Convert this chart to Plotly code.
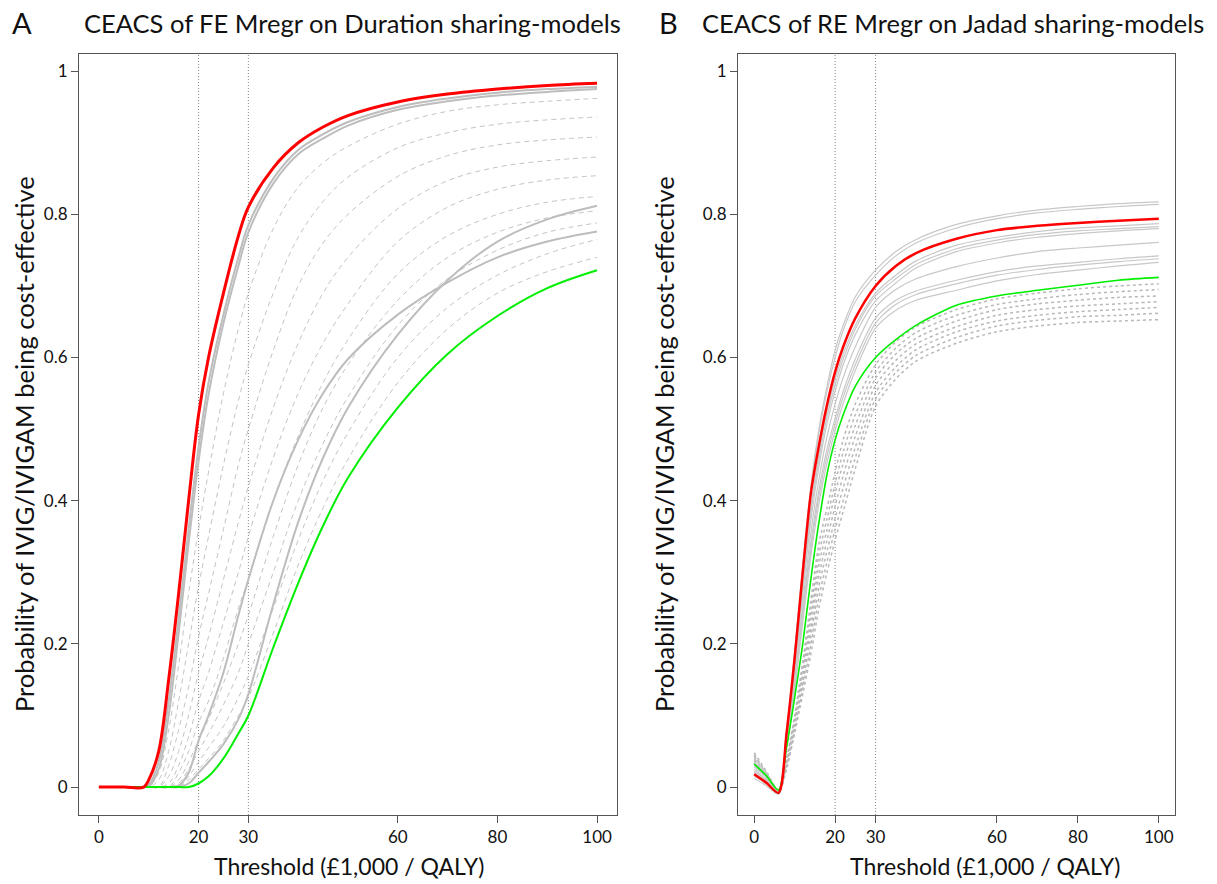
import plotly.graph_objects as go

# ---------------- Panel A data (FE Mregr on Duration) ----------------
XA = [0, 5, 9, 10, 12, 14, 16, 18, 20, 22, 25, 28, 30, 35, 40, 45, 50, 60, 70, 80, 90, 100]

red_A = [0, 0, 0, 0.01, 0.05, 0.15, 0.27, 0.40, 0.52, 0.60, 0.69, 0.77, 0.81, 0.865, 0.90, 0.922, 0.938, 0.957, 0.968, 0.975, 0.98, 0.983]
green_A = [0, 0, 0, 0, 0, 0, 0, 0, 0.005, 0.015, 0.04, 0.075, 0.10, 0.195, 0.285, 0.365, 0.432, 0.53, 0.605, 0.658, 0.697, 0.722]

gray_solid_A = [
    [0, 0, 0, 0.003, 0.035, 0.12, 0.235, 0.36, 0.475, 0.565, 0.66, 0.74, 0.785, 0.85, 0.89, 0.912, 0.929, 0.950, 0.962, 0.970, 0.975, 0.978],
    [0, 0, 0, 0.001, 0.025, 0.10, 0.215, 0.34, 0.455, 0.548, 0.648, 0.728, 0.775, 0.843, 0.884, 0.906, 0.924, 0.946, 0.958, 0.966, 0.971, 0.975],
    [0, 0, 0, 0, 0, 0, 0.002, 0.02, 0.065, 0.10, 0.16, 0.24, 0.29, 0.40, 0.485, 0.55, 0.598, 0.66, 0.705, 0.74, 0.762, 0.776],
    [0, 0, 0, 0, 0, 0, 0, 0.005, 0.02, 0.035, 0.06, 0.095, 0.13, 0.255, 0.37, 0.46, 0.53, 0.632, 0.708, 0.762, 0.793, 0.812],
]

gray_dash_A = [
    [0, 0, 0, 0, 0.02, 0.08, 0.17, 0.27, 0.36, 0.44, 0.55, 0.64, 0.69, 0.78, 0.838, 0.872, 0.895, 0.926, 0.944, 0.953, 0.958, 0.962],
    [0, 0, 0, 0, 0.01, 0.05, 0.12, 0.20, 0.28, 0.35, 0.45, 0.54, 0.59, 0.69, 0.768, 0.818, 0.852, 0.893, 0.914, 0.926, 0.932, 0.936],
    [0, 0, 0, 0, 0, 0.03, 0.08, 0.14, 0.21, 0.27, 0.36, 0.45, 0.50, 0.61, 0.70, 0.76, 0.80, 0.853, 0.882, 0.897, 0.904, 0.908],
    [0, 0, 0, 0, 0, 0.015, 0.05, 0.10, 0.16, 0.21, 0.29, 0.37, 0.42, 0.53, 0.62, 0.69, 0.74, 0.808, 0.847, 0.866, 0.875, 0.880],
    [0, 0, 0, 0, 0, 0.005, 0.03, 0.07, 0.12, 0.16, 0.23, 0.30, 0.35, 0.46, 0.55, 0.62, 0.675, 0.762, 0.81, 0.835, 0.848, 0.854],
    [0, 0, 0, 0, 0, 0, 0.02, 0.05, 0.09, 0.12, 0.18, 0.25, 0.29, 0.40, 0.49, 0.565, 0.625, 0.717, 0.77, 0.80, 0.817, 0.825],
    [0, 0, 0, 0, 0, 0, 0.01, 0.035, 0.065, 0.095, 0.145, 0.20, 0.24, 0.35, 0.45, 0.53, 0.59, 0.68, 0.74, 0.775, 0.795, 0.805],
    [0, 0, 0, 0, 0, 0, 0.005, 0.025, 0.05, 0.075, 0.115, 0.16, 0.20, 0.30, 0.40, 0.48, 0.545, 0.645, 0.71, 0.75, 0.775, 0.788],
    [0, 0, 0, 0, 0, 0, 0, 0.015, 0.035, 0.055, 0.085, 0.125, 0.155, 0.25, 0.345, 0.428, 0.495, 0.60, 0.67, 0.715, 0.745, 0.765],
    [0, 0, 0, 0, 0, 0, 0, 0.01, 0.025, 0.04, 0.065, 0.10, 0.125, 0.215, 0.31, 0.39, 0.458, 0.565, 0.64, 0.69, 0.72, 0.740],
]

# ---------------- Panel B data (RE Mregr on Jadad) ----------------
XB = [0, 3, 6, 8, 10, 12, 14, 16, 18, 20, 22, 25, 30, 35, 40, 50, 60, 70, 80, 90, 100]

red_B = [0.018, 0.006, -0.008, 0.075, 0.18, 0.30, 0.41, 0.477, 0.534, 0.58, 0.615, 0.655, 0.70, 0.728, 0.746, 0.766, 0.778, 0.784, 0.788, 0.791, 0.794]
green_B = [0.032, 0.016, -0.004, 0.055, 0.125, 0.20, 0.29, 0.37, 0.437, 0.485, 0.52, 0.56, 0.60, 0.625, 0.645, 0.673, 0.686, 0.694, 0.701, 0.708, 0.712]

gray_solid_B = [
    [0.025, 0.010, -0.006, 0.08, 0.19, 0.31, 0.42, 0.50, 0.56, 0.61, 0.645, 0.685, 0.722, 0.748, 0.765, 0.786, 0.798, 0.806, 0.811, 0.815, 0.8175],
    [0.012, 0.002, -0.010, 0.075, 0.185, 0.305, 0.415, 0.495, 0.553, 0.60, 0.638, 0.678, 0.715, 0.742, 0.76, 0.781, 0.794, 0.802, 0.807, 0.811, 0.814],
    [0.030, 0.015, -0.005, 0.07, 0.17, 0.285, 0.39, 0.465, 0.525, 0.57, 0.605, 0.645, 0.69, 0.715, 0.735, 0.757, 0.768, 0.776, 0.781, 0.784, 0.787],
    [0.022, 0.010, -0.007, 0.068, 0.165, 0.278, 0.382, 0.457, 0.517, 0.562, 0.598, 0.64, 0.686, 0.71, 0.73, 0.752, 0.764, 0.772, 0.777, 0.780, 0.783],
    [0.015, 0.005, -0.009, 0.065, 0.16, 0.27, 0.372, 0.448, 0.508, 0.553, 0.59, 0.632, 0.679, 0.704, 0.725, 0.748, 0.76, 0.768, 0.773, 0.777, 0.780],
    [0.040, 0.020, -0.005, 0.062, 0.15, 0.255, 0.355, 0.43, 0.49, 0.535, 0.572, 0.615, 0.67, 0.695, 0.71, 0.727, 0.739, 0.748, 0.753, 0.757, 0.761],
    [0.035, 0.018, -0.006, 0.06, 0.145, 0.245, 0.34, 0.415, 0.472, 0.515, 0.553, 0.598, 0.655, 0.68, 0.693, 0.708, 0.72, 0.728, 0.733, 0.738, 0.742],
    [0.028, 0.013, -0.007, 0.058, 0.14, 0.238, 0.332, 0.406, 0.463, 0.507, 0.545, 0.59, 0.648, 0.674, 0.688, 0.703, 0.715, 0.723, 0.729, 0.734, 0.738],
    [0.020, 0.008, -0.009, 0.056, 0.135, 0.23, 0.322, 0.396, 0.453, 0.498, 0.536, 0.582, 0.641, 0.666, 0.68, 0.694, 0.707, 0.716, 0.722, 0.728, 0.733],
]

gray_dash_B = [
    [0.048, 0.022, -0.004, 0.04, 0.10, 0.175, 0.26, 0.34, 0.39, 0.44, 0.485, 0.535, 0.59, 0.622, 0.643, 0.667, 0.682, 0.69, 0.696, 0.70, 0.703],
    [0.045, 0.020, -0.005, 0.0375, 0.096, 0.166, 0.247, 0.325, 0.375, 0.424, 0.468, 0.520, 0.580, 0.613, 0.635, 0.659, 0.674, 0.682, 0.688, 0.692, 0.695],
    [0.043, 0.019, -0.005, 0.035, 0.092, 0.160, 0.235, 0.310, 0.36, 0.41, 0.452, 0.505, 0.571, 0.605, 0.627, 0.651, 0.667, 0.675, 0.680, 0.684, 0.686],
    [0.040, 0.017, -0.006, 0.0325, 0.0875, 0.1525, 0.2225, 0.295, 0.345, 0.3925, 0.435, 0.49, 0.561, 0.596, 0.619, 0.643, 0.659, 0.667, 0.672, 0.675, 0.678],
    [0.038, 0.015, -0.007, 0.03, 0.083, 0.145, 0.21, 0.28, 0.33, 0.375, 0.418, 0.475, 0.551, 0.587, 0.611, 0.636, 0.651, 0.659, 0.664, 0.667, 0.670],
    [0.035, 0.014, -0.007, 0.0275, 0.079, 0.138, 0.198, 0.265, 0.315, 0.36, 0.40, 0.46, 0.542, 0.579, 0.603, 0.628, 0.644, 0.652, 0.657, 0.659, 0.662],
    [0.033, 0.012, -0.008, 0.025, 0.075, 0.13, 0.185, 0.25, 0.30, 0.345, 0.385, 0.445, 0.532, 0.57, 0.595, 0.62, 0.636, 0.644, 0.649, 0.651, 0.653],
]

X_TICKS = [0, 20, 30, 60, 80, 100]
Y_TICKS = [0, 0.2, 0.4, 0.6, 0.8, 1]
Y_TICKTEXT = ["0", "0.2", "0.4", "0.6", "0.8", "1"]
REF_LINES = [20, 30]

TITLE_A = "CEACS of FE Mregr on Duration sharing-models"
TITLE_B = "CEACS of RE Mregr on Jadad sharing-models"
X_TITLE = "Threshold (£1,000 / QALY)"
Y_TITLE = "Probability of IVIG/IVIGAM being cost-effective"

FONT = "Lato, 'Open Sans', sans-serif"
W, H = 1217, 884

fig = go.Figure()


def add(xs, ys, xa, ya, color, width, dash="solid", smooth=1.0):
    fig.add_trace(go.Scatter(
        x=xs, y=ys, xaxis=xa, yaxis=ya, mode="lines",
        line=dict(color=color, width=width, dash=dash, shape="spline", smoothing=smooth),
        hoverinfo="skip", showlegend=False))


# Panel A
for ys in gray_dash_A:
    add(XA, ys, "x", "y", "#c4c4c4", 1, "5px,4px")
for ys in gray_solid_A:
    add(XA, ys, "x", "y", "#bdbdbd", 2)
add(XA, green_A, "x", "y", "#00ee00", 2)
add(XA, red_A, "x", "y", "#ff0000", 3)

# Panel B
for ys in gray_dash_B:
    add(XB, ys, "x2", "y2", "#b8b8b8", 1.5, "3px,3px", 0.8)
for ys in gray_solid_B:
    add(XB, ys, "x2", "y2", "#c8c8c8", 1.2, "solid", 0.8)
add(XB, green_B, "x2", "y2", "#00ee00", 1.6, "solid", 0.8)
add(XB, red_B, "x2", "y2", "#ff0000", 2.5, "solid", 0.8)

axis_common = dict(showline=True, mirror=True, linecolor="#555", linewidth=1,
                   ticks="outside", ticklen=7, tickcolor="#555", tickwidth=1,
                   showgrid=False, zeroline=False,
                   tickfont=dict(family=FONT, size=17, color="#111"))

ydom = [(H - 815) / H, (H - 54) / H]
fig.update_layout(
    width=W, height=H, margin=dict(l=0, r=0, t=0, b=0),
    paper_bgcolor="white", plot_bgcolor="white",
    xaxis=dict(domain=[79 / W, 617 / W], range=[-4, 104], tickvals=X_TICKS, anchor="y", **axis_common),
    yaxis=dict(domain=ydom, range=[-0.039, 1.024], tickvals=Y_TICKS, ticktext=Y_TICKTEXT, anchor="x", **axis_common),
    xaxis2=dict(domain=[738 / W, 1175 / W], range=[-4, 104], tickvals=X_TICKS, anchor="y2", **axis_common),
    yaxis2=dict(domain=ydom, range=[-0.039, 1.024], tickvals=Y_TICKS, ticktext=Y_TICKTEXT, anchor="x2", **axis_common),
)

shapes = []
for xv in REF_LINES:
    shapes.append(dict(type="line", xref="x", yref="y domain", x0=xv, x1=xv, y0=0, y1=1,
                       line=dict(color="#888", width=1, dash="1px,2px"), layer="below"))
    shapes.append(dict(type="line", xref="x2", yref="y2 domain", x0=xv, x1=xv, y0=0, y1=1,
                       line=dict(color="#888", width=1, dash="1px,2px"), layer="below"))
fig.update_layout(shapes=shapes)


def ann(text, px, py, size, xanchor="center", angle=0):
    fig.add_annotation(text=text, x=px / W, y=1 - py / H, xref="paper", yref="paper",
                       xanchor=xanchor, yanchor="middle", showarrow=False, textangle=angle,
                       font=dict(family=FONT, size=size, color="#111"))


ann("A", 22, 22, 29)
ann(TITLE_A, 82, 23, 25.5, "left")
ann("B", 668, 22, 29)
ann(TITLE_B, 700, 23, 25.5, "left")
ann(X_TITLE, 349, 866, 23)
ann(X_TITLE, 985, 866, 23)
ann(Y_TITLE, 24, 444, 25.5, angle=-90)
ann(Y_TITLE, 664, 444, 25.5, angle=-90)

fig.write_html("out.html")
